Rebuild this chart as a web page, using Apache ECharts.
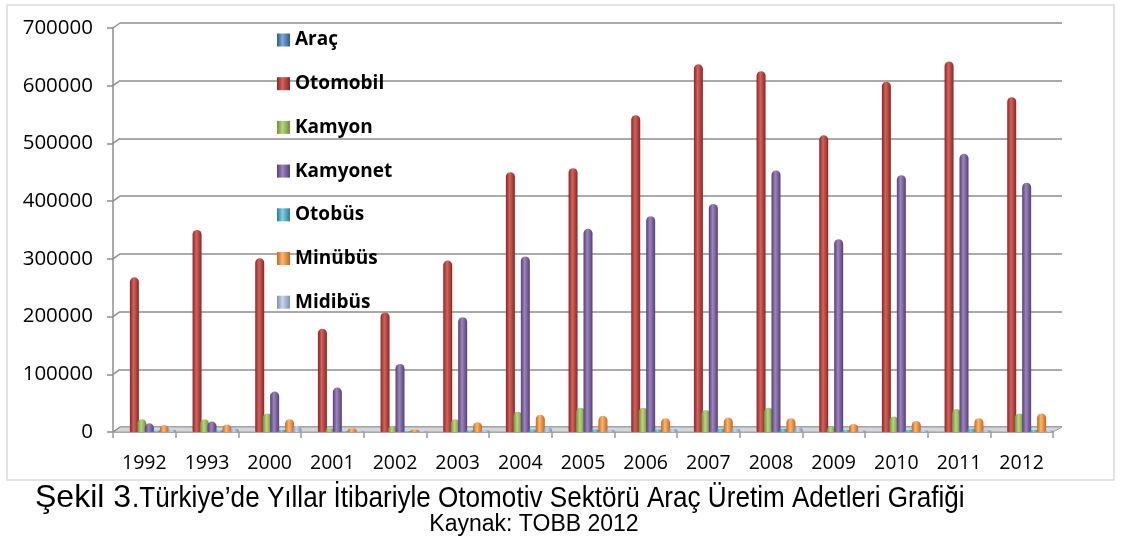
<!DOCTYPE html>
<html><head><meta charset="utf-8">
<script src="https://cdn.jsdelivr.net/npm/echarts@6/dist/echarts.min.js"></script>
<style>html,body{margin:0;padding:0;background:#fff}#c{width:1134px;height:539px}</style>
</head><body><div id="c"></div>
<script>
const years = ['1992','1993','2000','2001','2002','2003','2004','2005','2006','2007','2008','2009','2010','2011','2012'];
const seriesNames = ['Araç','Otomobil','Kamyon','Kamyonet','Otobüs','Minübüs','Midibüs'];
const arac     = [0,0,0,0,0,0,0,0,0,0,0,0,0,0,0];
const otomobil = [268000,350000,301000,179000,207000,297000,450000,457000,549000,637000,625000,514000,607000,642000,580000];
const kamyon   = [22000,22000,32000,6000,11000,22000,35000,42000,42000,38000,42000,9000,27000,40000,32000];
const kamyonet = [15000,18000,70000,77000,118000,199000,304000,352000,374000,395000,453000,334000,445000,482000,432000];
const otobus   = [2500,2500,3500,1500,1500,2500,4500,4500,4500,5500,5500,3500,3500,5500,3500];
const minibus  = [12000,13000,22000,6000,4000,17000,30000,28000,24000,25000,24000,14000,19000,24000,32000];
const midibus  = [4000,6000,11000,1500,1500,3000,9000,4000,5000,6000,9000,2500,2500,3500,2500];
const yTicks   = [0,100000,200000,300000,400000,500000,600000,700000];

const seriesData = [arac, otomobil, kamyon, kamyonet, otobus, minibus, midibus];
const palette = [
  ['#2f5a8f','#7ea6d6'],
  ['#8b2623','#d2625e'],
  ['#6f8d3a','#bad580'],
  ['#553f76','#9d85be'],
  ['#2b7d95','#7fd0e3'],
  ['#c2681a','#fdb673'],
  ['#7a91b3','#c6d5ea']
];
function grad(i){
  return new echarts.graphic.LinearGradient(0,0,1,0,[
    {offset:0,color:palette[i][0]},
    {offset:0.42,color:palette[i][1]},
    {offset:1,color:palette[i][0]}
  ]);
}
const gridColor = '#8e8e8e';

const chart = echarts.init(document.getElementById('c'), null, {renderer:'canvas'});
const barSeries = seriesNames.map((name,i)=>({
  name, type:'bar', xAxisIndex:2, yAxisIndex:2, data: seriesData[i],
  barWidth:9, barGap:'-17%',
  itemStyle:{color:grad(i), borderRadius:[4.5,4.5,1,1]},
  z:3
}));

const edgeSeries = {
  type:'custom', xAxisIndex:0, yAxisIndex:0, z:1, silent:true,
  data: yTicks.map(v=>[0,v]),
  renderItem(params, api){
    const cs = params.coordSys;
    const y = api.coord([0, api.value(1)])[1];
    const children = [{type:'line', shape:{x1:cs.x, y1:y, x2:cs.x+7, y2:y-5}, style:{stroke:gridColor, lineWidth:1.5}}];
    if (params.dataIndex === 0){
      const b = cs.y + cs.height;
      children.unshift({type:'polygon', shape:{points:[[cs.x,b],[cs.x+cs.width,b],[cs.x+cs.width+9,b-5],[cs.x+7,b-5]]},
        style:{fill:'#d4d6da', stroke:'#a0a0a0', lineWidth:1}});
    }
    return {type:'group', children};
  }
};

chart.setOption({
  animation:false,
  backgroundColor:'#fff',
  grid:[
    {left:113, right:81, top:28, bottom:107},
    {left:120, right:72, top:23, bottom:112},
    {left:118, right:76, top:28, bottom:107}
  ],
  legend:{
    data: seriesNames, orient:'vertical', left:277, top:30, padding:0,
    itemWidth:13, itemHeight:13, itemGap:23.7, icon:'rect',
    textStyle:{fontFamily:'Open Sans', fontWeight:'bold', fontSize:19, lineHeight:20, color:'#000'}
  },
  xAxis:[
    {gridIndex:0, type:'category', data:years,
     axisLine:{show:true, lineStyle:{color:'#9a9a9a', width:1.5}},
     axisTick:{show:true, length:6, lineStyle:{color:'#9a9a9a', width:1.5}},
     axisLabel:{fontFamily:'Open Sans', fontSize:19.5, lineHeight:20, color:'#000', margin:21},
     splitLine:{show:false}},
    {gridIndex:1, type:'category', data:years, show:false},
    {gridIndex:2, type:'category', data:years, show:false}
  ],
  yAxis:[
    {gridIndex:0, type:'value', min:0, max:700000, interval:100000,
     axisLine:{show:true, lineStyle:{color:gridColor, width:1.5}},
     axisTick:{show:true, length:6, lineStyle:{color:gridColor, width:1.5}},
     axisLabel:{fontFamily:'Open Sans', fontSize:20.5, color:'#000', margin:20, formatter:v=>String(v)},
     splitLine:{show:false}},
    {gridIndex:1, type:'value', min:0, max:700000, interval:100000,
     axisLine:{show:false}, axisTick:{show:false}, axisLabel:{show:false},
     splitLine:{show:true, lineStyle:{color:gridColor, width:1.5}}},
    {gridIndex:2, type:'value', min:0, max:700000, interval:100000, show:false, splitLine:{show:false}}
  ],
  graphic:[
    {type:'rect', silent:true, z:-1, shape:{x:7, y:5, width:1107, height:475}, style:{fill:'none', stroke:'#d9d9d9', lineWidth:1.5}},
    {type:'text', x:35, y:498, style:{text:'Şekil 3', font:'32px "Liberation Sans", Arial, sans-serif', fill:'#000', textAlign:'left', textVerticalAlign:'middle'}},
    {type:'text', x:132, y:499, scaleX:0.9, style:{text:'.Türkiye’de Yıllar İtibariyle Otomotiv Sektörü Araç Üretim Adetleri Grafiği', font:'29px "Liberation Sans", Arial, sans-serif', fill:'#000', textAlign:'left', textVerticalAlign:'middle'}},
    {type:'text', x:534, y:525, style:{text:'Kaynak: TOBB 2012', font:'23px "Liberation Sans", Arial, sans-serif', fill:'#000', textAlign:'center', textVerticalAlign:'middle'}}
  ],
  series:[edgeSeries].concat(barSeries)
});
</script>
</body></html>
